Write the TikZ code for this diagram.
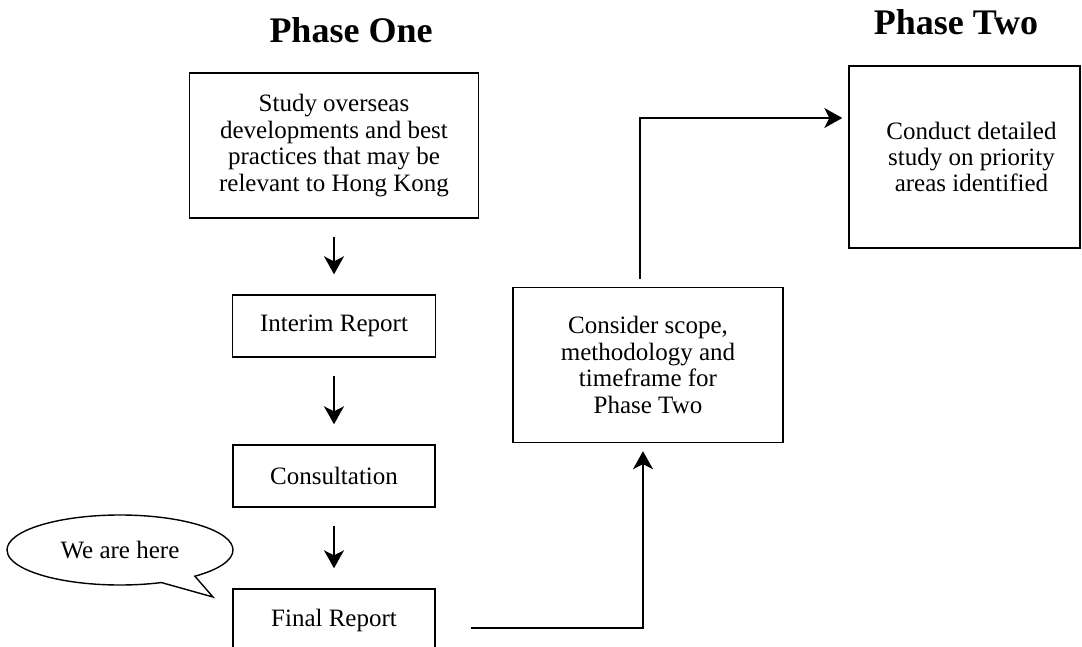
\documentclass[tikz,border=0pt]{standalone}
\usepackage{fontspec}
\setmainfont{Liberation Serif}
\usetikzlibrary{arrows.meta, shapes.callouts}

\begin{document}
\begin{tikzpicture}[x=0.5pt,y=-0.5pt,>={Stealth[length=9pt,width=10pt,inset=2.5pt]},
  box/.style={draw, line width=0.7pt, align=center, inner sep=0pt, font=\fontsize{12.5}{13.2}\selectfont},
  flow/.style={->, line width=0.9pt, shorten <=9pt, shorten >=10pt},
  title/.style={anchor=base, font=\fontsize{18}{20}\selectfont\bfseries}]

\useasboundingbox (0,0) rectangle (1082,647);
\clip (0,0) rectangle (1082,647);

% Headings
\node[title] (one) at (351,43) {Phase One};
\node[title] (two) at (956,35) {Phase Two};

% Phase one boxes
\node[box, minimum width=144.5pt, minimum height=72.5pt] (study) at (334,145.5) {Study overseas\\developments and best\\practices that may be\\relevant to Hong Kong};
\node[box, minimum width=101.5pt, minimum height=31pt] (interim) at (334,326) {Interim Report};
\node[box, minimum width=101pt, minimum height=31pt] (consult) at (334,476) {Consultation};
\node[box, minimum width=101pt, minimum height=31pt] (final) at (334,620) {Final Report};

% Between the phases
\node[box, minimum width=135pt, minimum height=77.5pt] (consider) at (648,365) {Consider scope,\\methodology and\\timeframe for\\Phase Two};

% Phase two box
\node[box, minimum width=115.5pt, minimum height=91pt] (detail) at (964.5,157) {\hspace*{7pt}Conduct detailed\\\hspace*{7pt}study on priority\\\hspace*{7pt}areas identified};

% Speech bubble
\node[ellipse callout, draw, line width=0.7pt, minimum width=113pt, minimum height=35pt, inner sep=0pt,
  callout pointer arc=20, callout absolute pointer={(213,597)}, font=\fontsize{12.5}{13}\selectfont] (here) at (120,550) {We are here};

% Down the first phase
\draw[flow] (study.south) -- (interim.north);
\draw[flow] (interim.south) -- (consult.north);
\draw[flow] (consult.south) -- (final.north);

% From the final report to the next step
\draw[flow, shorten <=0pt, shorten >=4pt] ([xshift=17.5pt,yshift=-4pt]final.east) -| ([xshift=-2.5pt]consider.south);
% On to phase two
\draw[flow, shorten <=0pt, shorten >=3pt] ([xshift=-4pt,yshift=4pt]consider.north) |- ([yshift=19.5pt]detail.west);
\end{tikzpicture}
\end{document}
